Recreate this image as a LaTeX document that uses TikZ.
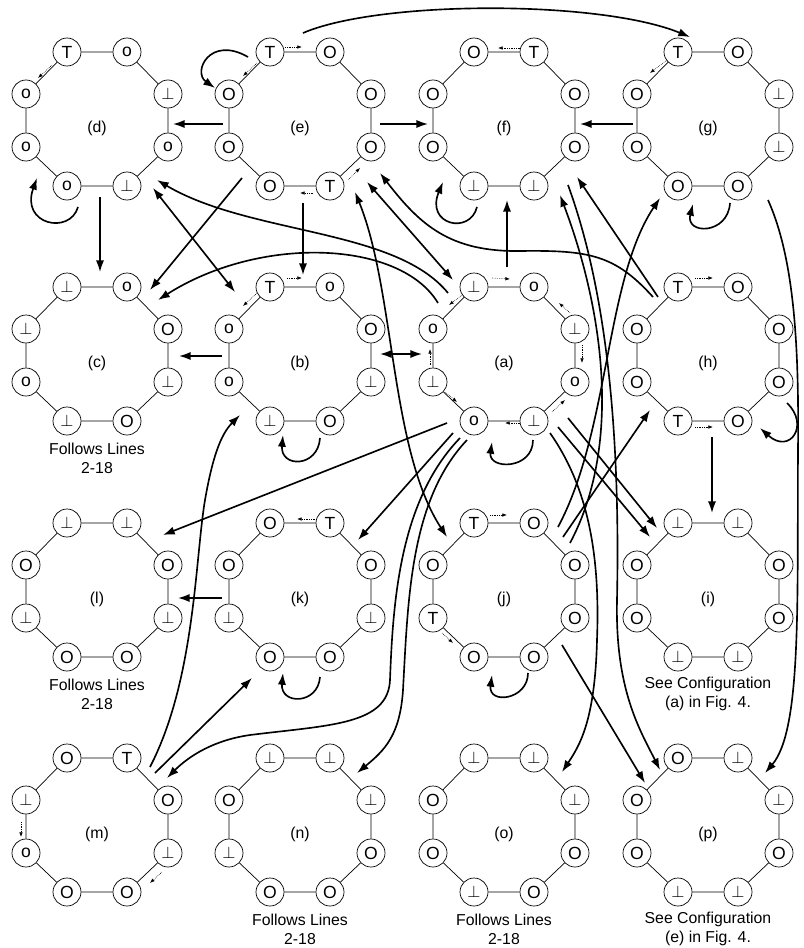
\documentclass[tikz,border=0pt]{standalone}
\usepackage{fontspec}
\setmainfont{Liberation Sans}
\usetikzlibrary{arrows.meta}
\newcommand{\btm}{$\bot$}
\newcommand{\labfont}{\fontsize{13.5}{16.2}\selectfont}
\newcommand{\ringfont}{\fontsize{15}{17}\selectfont}

\begin{document}
\begin{tikzpicture}[x=0.03cm, y=-0.03cm,
	st/.style={circle, draw, line width=0.6pt, minimum size=0.84cm, inner sep=0pt, font=\ringfont},
	ring/.style={line width=0.6pt},
	arr/.style={line width=1.4pt, -{Latex[length=10pt,width=7pt]}},
	darr/.style={line width=1.4pt, {Latex[length=10pt,width=7pt]}-{Latex[length=10pt,width=7pt]}},
	hop/.style={densely dotted, line width=0.5pt, -{Latex[length=4pt,width=3pt]}},
	captext/.style={align=center, font=\labfont}]

		\useasboundingbox (0,0) rectangle (803,948);

		% the sixteen rings: name/centre/labels from top left, clockwise
		\foreach \n/\cx/\cy/\pa/\pb/\pc/\pd/\pe/\pf/\pg/\ph in {
			d/97/119/T/o/\btm/o/\btm/o/o/o,
			e/300/119/T/O/O/O/T/O/O/O,
			f/504/119/O/T/O/O/\btm/\btm/O/O,
			g/708/119/T/O/\btm/\btm/O/O/O/O,
			c/97/354/\btm/o/O/\btm/O/\btm/o/\btm,
			b/300/354/T/o/O/\btm/O/\btm/o/o,
			a/504/354/\btm/o/\btm/o/\btm/o/\btm/o,
			h/708/354/T/O/O/O/O/T/O/O,
			l/97/590/\btm/\btm/O/\btm/O/O/\btm/O,
			k/300/590/O/T/O/\btm/O/O/\btm/O,
			j/504/590/T/O/O/O/O/O/T/O,
			i/708/590/\btm/\btm/O/O/\btm/\btm/O/O,
			m/97/825/O/T/O/\btm/O/O/o/\btm,
			n/300/825/\btm/\btm/\btm/O/O/O/\btm/O,
			o/504/825/\btm/\btm/\btm/O/O/\btm/O/O,
			p/708/825/O/\btm/\btm/O/\btm/\btm/O/O}
		{
			\coordinate (\n) at (\cx,\cy);
			\node[st] (\n1) at (\cx-30,\cy-67) {\pa};
			\node[st] (\n2) at (\cx+30,\cy-67) {\pb};
			\node[st] (\n3) at (\cx+71,\cy-25) {\pc};
			\node[st] (\n4) at (\cx+71,\cy+28) {\pd};
			\node[st] (\n5) at (\cx+30,\cy+67) {\pe};
			\node[st] (\n6) at (\cx-30,\cy+67) {\pf};
			\node[st] (\n7) at (\cx-71,\cy+28) {\pg};
			\node[st] (\n8) at (\cx-71,\cy-25) {\ph};
			\draw[ring] (\n1) -- (\n2) -- (\n3) -- (\n4) -- (\n5) -- (\n6) -- (\n7) -- (\n8) -- (\n1);
			\node[font=\labfont] (\n-name) at (\cx,\cy+9) {(\n)};
		}

		\node[captext] (c-cap) at ([shift={(0,104)}]c) {Follows Lines\\2-18};
		\node[captext] (l-cap) at ([shift={(0,104)}]l) {Follows Lines\\2-18};
		\node[captext] (i-cap) at ([shift={(0,104)}]i) {See Configuration\\(a) in Fig. 4.};
		\node[captext] (n-cap) at ([shift={(0,104)}]n) {Follows Lines\\2-18};
		\node[captext] (o-cap) at ([shift={(0,104)}]o) {Follows Lines\\2-18};
		\node[captext] (p-cap) at ([shift={(0,104)}]p) {See Configuration\\(e) in Fig. 4.};

		% token moves inside a ring
		\foreach \n/\xa/\ya/\xb/\yb in {d/-45/-54/-59/-41,
			e/-15/-72/2/-72, e/-43/-56/-57/-43, e/13/74/0/74, e/48/61/60/49,
			f/16/-71/-6/-71, g/-41/-59/-58/-46,
			b/-13/-76/2/-76, b/-43/-61/-57/-48,
			a/-12/-76/6/-75, a/-42/-59/-55/-49, a/66/-41/55/-51, a/78/-9/78/9,
			a/48/58/61/46, a/16/69/1/69, a/-59/38/-47/48, a/-74/11/-74/-5,
			h/-13/-76/5/-76, h/-13/73/5/73,
			j/-14/-75/3/-75, j/-62/43/-51/53,
			k/15/-71/-3/-71, m/-76/-3/-76/12, m/65/47/53/58}
		\draw[hop] ([shift={(\xa,\ya)}]\n) -- ([shift={(\xb,\yb)}]\n);

		% self loops
		\foreach \n/\xa/\ya/\ca/\da/\cb/\db/\xb/\yb in {d/-19/88/-8/28/-17/47/-60/59,
			e/-52/-62/-38/-22/-23/-16/-85/-31,
			f/-27/88/-7/28/-18/43/-61/63,
			g/22/84/-2/32/-8/31/-15/85,
			b/20/84/-2/30/-3/33/-17/81,
			a/29/86/0/30/-4/28/-12/88,
			h/79/49/23/22/30/27/52/74,
			j/24/83/0/27/-4/30/-12/85,
			k/20/87/-2/28/-3/32/-17/83}
		\draw[arr] ([shift={(\xa,\ya)}]\n) .. controls +(\ca,\da) and +(\cb,\db) .. ([shift={(\xb,\yb)}]\n);

		% straight transitions
		\draw[arr] ([shift={(-77,5)}]e) -- ([shift={(76,5)}]d);
		\draw[arr] ([shift={(80,5)}]e) -- ([shift={(-76,5)}]f);
		\draw[arr] ([shift={(-75,5)}]g) -- ([shift={(76,5)}]f);
		\draw[arr] ([shift={(-78,2)}]b) -- ([shift={(82,2)}]c);
		\draw[darr] ([shift={(80,0)}]b) -- ([shift={(-82,0)}]a);
		\draw[arr] ([shift={(-78,8)}]k) -- ([shift={(81,8)}]l);
		\draw[arr] ([shift={(3,78)}]d) -- ([shift={(3,-82)}]c);
		\draw[arr] ([shift={(3,84)}]e) -- ([shift={(3,-79)}]b);
		\draw[arr] ([shift={(3,-87)}]a) -- ([shift={(3,81)}]f);
		\draw[arr] ([shift={(4,83)}]h) -- ([shift={(4,-77)}]i);
		\draw[arr] ([shift={(-58,59)}]e) -- ([shift={(53,-64)}]c);
		\draw[darr] ([shift={(56,69)}]d) -- ([shift={(-65,-62)}]b);
		\draw[darr] ([shift={(67,63)}]e) -- ([shift={(-51,-74)}]a);
		\draw[arr] ([shift={(59,-53)}]j) -- ([shift={(-58,56)}]h);
		\draw[arr] ([shift={(-50,-57)}]h) -- ([shift={(73,58)}]f);
		\draw[arr] ([shift={(54,73)}]a) -- ([shift={(-58,-53)}]i);
		\draw[arr] ([shift={(64,64)}]a) -- ([shift={(-51,-62)}]i);
		\draw[arr] ([shift={(58,55)}]j) -- ([shift={(-63,-42)}]p);
		\draw[arr] ([shift={(-57,69)}]a) -- ([shift={(66,-55)}]l);
		\draw[arr] ([shift={(-51,79)}]a) -- ([shift={(58,-50)}]k);
		\draw[arr] ([shift={(58,-52)}]m) -- ([shift={(-48,88)}]k);

		% curved transitions
		\draw[arr] ([shift={(3,-86)}]e) .. controls (380,0) and (600,0) .. ([shift={(-18,-82)}]g);
		\draw[arr] ([shift={(-56,-61)}]a) .. controls (395,228) and (250,235) .. ([shift={(60,61)}]d);
		\draw[arr] ([shift={(-66,-51)}]a) .. controls (400,240) and (260,235) .. ([shift={(61,-54)}]c);
		\draw[arr] ([shift={(-55,-57)}]h) .. controls (615,255) and (590,250) .. (520,251)
			.. controls (450,252) and (420,225) .. ([shift={(80,54)}]e);
		\draw[darr] ([shift={(55,73)}]e) .. controls (395,290) and (390,450) .. ([shift={(-57,-53)}]j);
		\draw[arr] ([shift={(54,-63)}]j) .. controls (610,430) and (605,280) .. ([shift={(-48,79)}]g);
		\draw[arr] ([shift={(66,-47)}]j) .. controls (625,440) and (600,300) .. ([shift={(56,76)}]f);
		\draw[arr] ([shift={(64,66)}]f) .. controls (610,300) and (620,450) .. (617,600)
			.. controls (615,690) and (640,730) .. ([shift={(-48,-55)}]p);
		\draw[arr] ([shift={(46,79)}]a) .. controls (590,490) and (600,560) .. (597,640)
			.. controls (595,720) and (580,745) .. ([shift={(58,-53)}]o);
		\draw[arr] ([shift={(60,81)}]g) .. controls (795,260) and (799,350) .. (798,450)
			.. controls (797,600) and (802,730) .. ([shift={(57,-52)}]p);
		\draw[arr] ([shift={(-44,84)}]a) .. controls (400,500) and (393,600) .. (390,680)
			.. controls (388,725) and (330,725) .. (250,735)
			.. controls (215,740) and (190,755) .. ([shift={(70,-47)}]m);
		\draw[arr] ([shift={(-37,86)}]a) .. controls (410,500) and (408,600) .. (403,690)
			.. controls (400,735) and (385,750) .. ([shift={(57,-52)}]n);
		\draw[arr] ([shift={(53,-58)}]m) .. controls (195,680) and (195,560) .. (205,500)
			.. controls (212,460) and (220,435) .. ([shift={(-60,61)}]b);
	\end{tikzpicture}
\end{document}
